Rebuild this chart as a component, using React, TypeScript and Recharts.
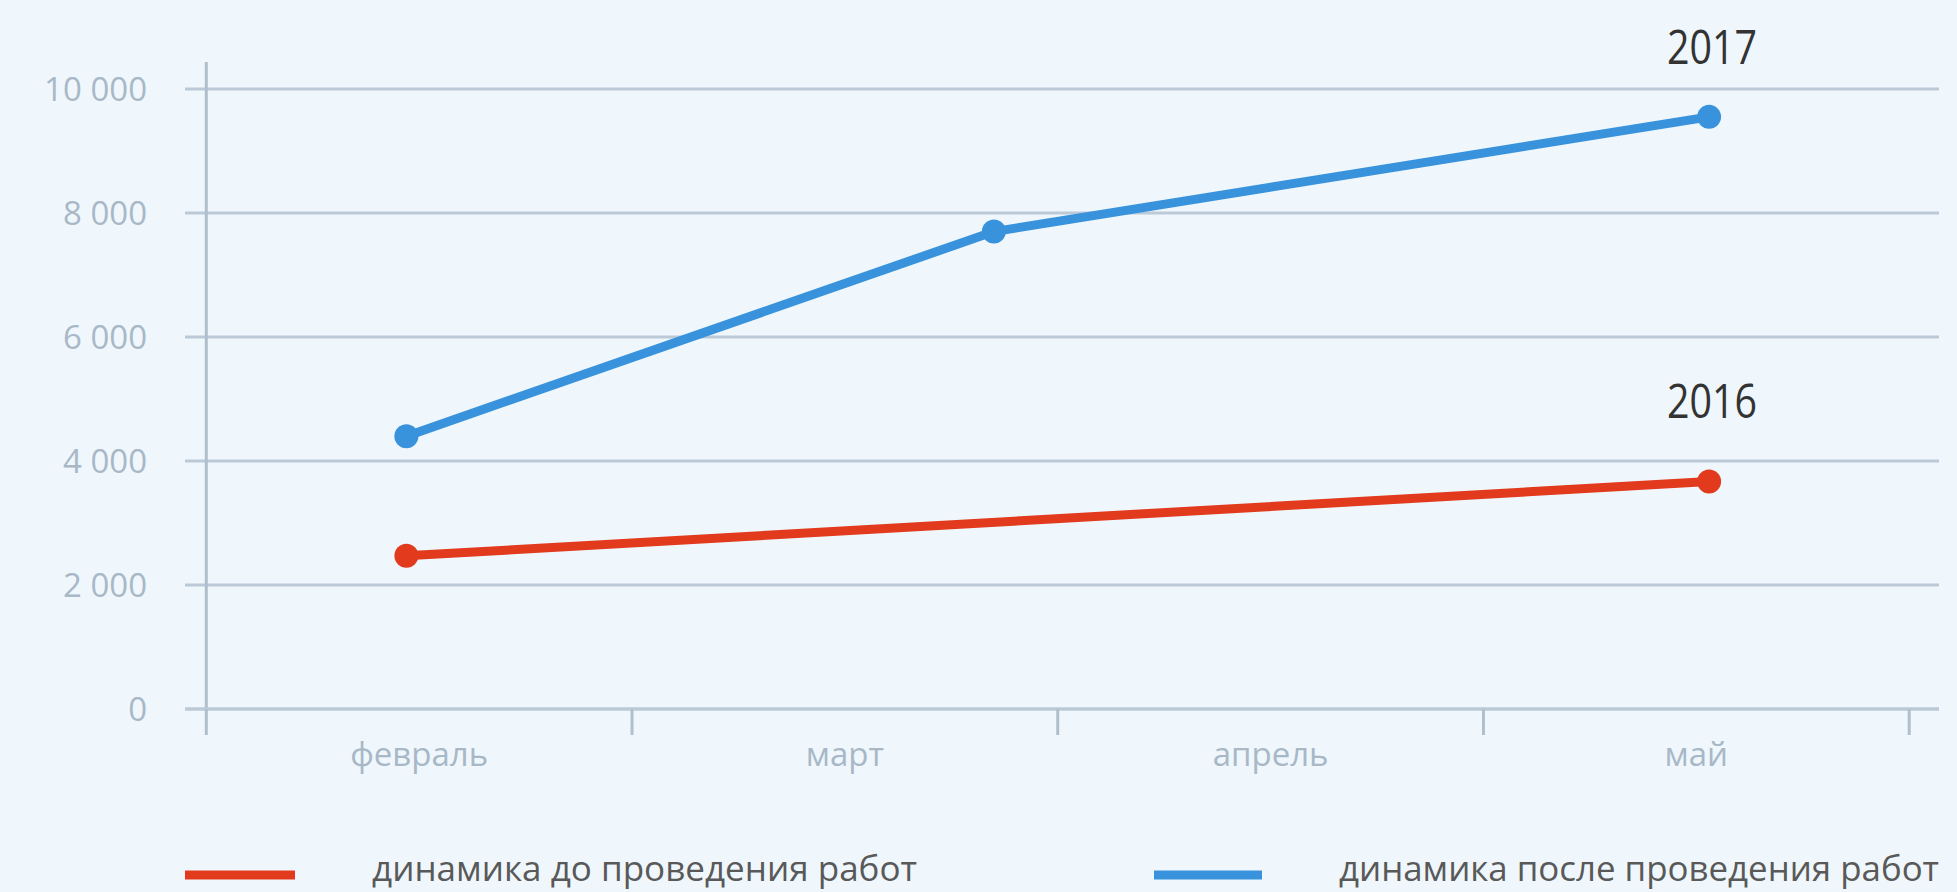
import React from 'react'
import { CartesianGrid, Legend, Line, LineChart, ReferenceLine, XAxis, YAxis } from 'recharts'

const months = ['февраль', 'март', 'апрель', 'май']
const monthTicks = [0, 0.5, 1, 1.5, 2, 2.5, 3, 3.5, 4]
const valueTicks = [0, 2000, 4000, 6000, 8000, 10000]

// x — положение точки в месяцах от начала оси (0 = левый край февраля)
const beforeX = [0.47, 3.53]
const beforeValues = [2470, 3670]
const afterX = [0.47, 1.85, 3.53]
const afterValues = [4400, 7700, 9550]

const seriesNames = ['динамика до проведения работ', 'динамика после проведения работ']
const seriesYears = ['2016', '2017']

const beforeData = beforeX.map((x, i) => ({ x, value: beforeValues[i] }))
const afterData = afterX.map((x, i) => ({ x, value: afterValues[i] }))

const FONT = "'Open Sans', 'Noto Sans', sans-serif"
const GRID = '#bccad7'
const AXIS_TEXT = '#a8b8c7'
const RED = '#e23a1d'
const BLUE = '#3893dc'

const fmt = (v: number) => String(v).replace(/\B(?=(\d{3})+(?!\d))/g, ' ')

const MonthTick = (props: any) => {
  const { x, y, payload } = props
  const v = payload.value
  if (Number.isInteger(v)) {
    return <line x1={x} x2={x} y1={y} y2={y + 26} stroke="#b0bfcc" strokeWidth={3} />
  }
  return (
    <text x={x} y={y + 57} textAnchor="middle" fill={AXIS_TEXT} fontSize={33} fontFamily={FONT}>
      {months[Math.floor(v)]}
    </text>
  )
}

const yearLabel = (year: string, last: number, lift: number) => (props: any) => {
  const { x, y, index } = props
  if (index !== last) return <g />
  return (
    <text
      x={x + 3}
      y={y - lift}
      textAnchor="middle"
      fill="#333"
      fontSize={48}
      fontFamily={FONT}
      textLength={90}
      lengthAdjust="spacingAndGlyphs"
    >
      {year}
    </text>
  )
}

const LegendContent = ({ payload }: any) => (
  <svg width={1957} height={52} style={{ display: 'block' }}>
    {(payload || []).map((entry: any, i: number) => (
      <g key={entry.value}>
        <rect x={i === 0 ? 185 : 1154} y={30.5} width={i === 0 ? 110 : 108} height={9} fill={entry.color} />
        <text
          x={i === 0 ? 372 : 1339}
          y={41}
          fill="#595959"
          fontSize={34}
          fontFamily={FONT}
          textLength={i === 0 ? 545 : 600}
          lengthAdjust="spacingAndGlyphs"
        >
          {entry.value}
        </text>
      </g>
    ))}
  </svg>
)

export default function App() {
  return (
    <div style={{ position: 'fixed', left: 0, top: 0, width: 1957, height: 892, background: '#eff7fc' }}>
      <LineChart width={1957} height={892} margin={{ top: 62, right: 18, left: 0, bottom: 83 }}>
        <CartesianGrid vertical={false} horizontalValues={valueTicks} stroke={GRID} strokeWidth={3} />
        <XAxis
          dataKey="x"
          type="number"
          domain={[-0.05, 4.07]}
          allowDataOverflow
          ticks={monthTicks}
          interval={0}
          height={100}
          tickSize={0}
          tickMargin={0}
          tickLine={false}
          axisLine={{ stroke: GRID, strokeWidth: 3 }}
          tick={<MonthTick />}
        />
        <YAxis
          type="number"
          domain={[0, 10435]}
          allowDataOverflow
          ticks={valueTicks}
          interval={0}
          width={185}
          tickSize={0}
          tickMargin={38}
          tickLine={false}
          axisLine={false}
          tickFormatter={fmt}
          tick={{ fill: AXIS_TEXT, fontSize: 33, fontFamily: FONT }}
        />
        <ReferenceLine x={0} stroke="#b0bfcc" strokeWidth={3} />
        <Line
          data={beforeData}
          dataKey="value"
          name={seriesNames[0]}
          stroke={RED}
          strokeWidth={9}
          dot={{ r: 12, fill: RED, stroke: 'none' }}
          activeDot={false}
          isAnimationActive={false}
          label={yearLabel(seriesYears[0], beforeData.length - 1, 63)}
        />
        <Line
          data={afterData}
          dataKey="value"
          name={seriesNames[1]}
          stroke={BLUE}
          strokeWidth={9}
          dot={{ r: 12, fill: BLUE, stroke: 'none' }}
          activeDot={false}
          isAnimationActive={false}
          label={yearLabel(seriesYears[1], afterData.length - 1, 53)}
        />
        <Legend
          layout="horizontal"
          verticalAlign="middle"
          align="center"
          wrapperStyle={{ top: 840, left: 0, width: 1957, height: 52 }}
          content={<LegendContent />}
        />
      </LineChart>
    </div>
  )
}
